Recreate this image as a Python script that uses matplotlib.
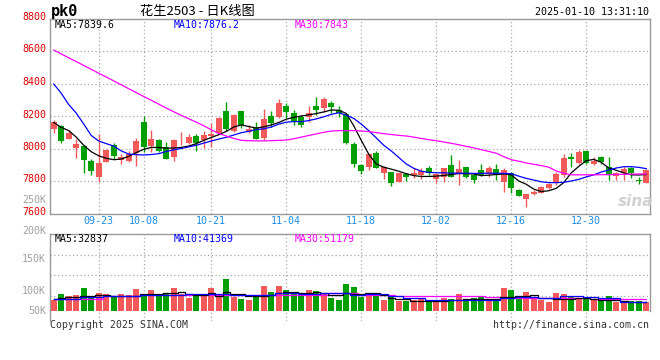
import matplotlib
matplotlib.use('Agg')
import matplotlib.pyplot as plt
import numpy as np

# ---------------- data ----------------
tick_labels = ['09-23', '10-08', '10-21', '11-04', '11-18', '12-02', '12-16', '12-30']
tick_index = [6, 12, 21, 31, 41, 51, 61, 71]

open_ = [8120, 8140, 8061, 8005, 8017, 7923, 7827, 7919, 8022, 7929,
         7925, 7974, 8163, 8017, 8052, 8007, 7950, 8038, 8034, 8077,
         8052, 8077, 8093, 8231, 8108, 8231, 8099, 8126, 8065, 8200,
         8196, 8262, 8220, 8192, 8192, 8262, 8251, 8282, 8237, 8212,
         8028, 7899, 7888, 7970, 7851, 7853, 7796, 7843, 7839, 7837,
         7878, 7812, 7827, 7899, 7841, 7884, 7835, 7868, 7843, 7872,
         7796, 7847, 7745, 7691, 7720, 7728, 7755, 7796, 7837, 7950,
         7909, 7985, 7903, 7946, 7888, 7831, 7847, 7882, 7804, 7786]
high = [8175, 8145, 8112, 8058, 8022, 7935, 8089, 8000, 8036, 7964,
        7987, 8063, 8200, 8114, 8058, 8042, 8058, 8104, 8089, 8087,
        8108, 8155, 8196, 8286, 8210, 8233, 8145, 8165, 8241, 8231,
        8307, 8278, 8237, 8206, 8262, 8319, 8319, 8292, 8262, 8220,
        8042, 7905, 7970, 7985, 7894, 7857, 7851, 7851, 7878, 7878,
        7892, 7851, 7880, 7960, 7929, 7888, 7847, 7905, 7892, 7903,
        7882, 7853, 7751, 7722, 7745, 7769, 7790, 7858, 7964, 7970,
        7991, 7987, 7946, 7954, 7950, 7853, 7888, 7888, 7827, 7872]
low = [8097, 8036, 8058, 7944, 7851, 7837, 7796, 7915, 7935, 7907,
       7920, 7894, 7978, 7980, 7980, 7935, 7925, 8020, 8030, 7987,
       8001, 8007, 8089, 8108, 8104, 8128, 8097, 8056, 8052, 8134,
       8186, 8186, 8143, 8134, 8165, 8206, 8227, 8216, 8196, 8030,
       7884, 7843, 7868, 7878, 7812, 7771, 7794, 7802, 7816, 7810,
       7837, 7790, 7796, 7823, 7775, 7821, 7790, 7831, 7827, 7806,
       7734, 7728, 7708, 7642, 7714, 7724, 7749, 7775, 7827, 7888,
       7905, 7905, 7899, 7905, 7806, 7806, 7806, 7816, 7780, 7786]
close = [8165, 8048, 8097, 8028, 7931, 7864, 7911, 7991, 7956, 7948,
         7966, 8046, 8011, 8056, 7987, 7937, 8052, 8043, 8071, 8036,
         8083, 8089, 8190, 8118, 8206, 8145, 8120, 8058, 8180, 8157,
         8280, 8227, 8169, 8143, 8216, 8237, 8307, 8258, 8216, 8032,
         7905, 7864, 7964, 7882, 7886, 7786, 7847, 7827, 7851, 7862,
         7847, 7841, 7878, 7827, 7872, 7827, 7806, 7835, 7880, 7837,
         7868, 7755, 7710, 7720, 7734, 7761, 7782, 7841, 7940, 7933,
         7978, 7909, 7925, 7919, 7839, 7851, 7874, 7847, 7800, 7868]

ma5 = [8160, 8130, 8110, 8070, 8020, 7980, 7955, 7940, 7931, 7935,
       7952, 7975, 7995, 8007, 8006, 8002, 8003, 8007, 8015, 8030,
       8050, 8068, 8085, 8105, 8132, 8145, 8135, 8126, 8133, 8145,
       8160, 8180, 8192, 8200, 8207, 8215, 8225, 8237, 8235, 8216,
       8140, 8050, 7965, 7905, 7885, 7873, 7860, 7845, 7833, 7828,
       7828, 7830, 7834, 7840, 7846, 7845, 7843, 7833, 7836, 7840,
       7843, 7838, 7800, 7780, 7750, 7735, 7740, 7755, 7790, 7850,
       7890, 7925, 7933, 7915, 7880, 7866, 7850, 7838, 7837, 7840]
ma10 = [8397, 8340, 8270, 8218, 8150, 8080, 8046, 8030, 8015, 7985,
        7966, 7962, 7960, 7963, 7968, 7982, 7992, 8000, 8010, 8020,
        8033, 8046, 8058, 8069, 8083, 8097, 8106, 8116, 8121, 8132,
        8150, 8162, 8166, 8165, 8172, 8182, 8195, 8210, 8220, 8205,
        8185, 8150, 8110, 8065, 8020, 7985, 7945, 7905, 7878, 7860,
        7853, 7851, 7850, 7849, 7848, 7848, 7847, 7847, 7848, 7848,
        7847, 7845, 7830, 7816, 7806, 7795, 7790, 7790, 7792, 7800,
        7810, 7825, 7838, 7855, 7868, 7880, 7888, 7888, 7884, 7876]
ma30 = [8606, 8582, 8558, 8535, 8511, 8487, 8463, 8440, 8416, 8392,
        8368, 8344, 8320, 8297, 8273, 8249, 8226, 8204, 8183, 8162,
        8140, 8115, 8092, 8077, 8062, 8050, 8048, 8047, 8047, 8048,
        8050, 8052, 8060, 8070, 8080, 8090, 8100, 8107, 8110, 8110,
        8110, 8108, 8104, 8098, 8091, 8086, 8081, 8077, 8070, 8062,
        8054, 8048, 8040, 8032, 8023, 8013, 8004, 7993, 7982, 7971,
        7950, 7931, 7922, 7911, 7903, 7895, 7885, 7862, 7848, 7838,
        7838, 7838, 7838, 7839, 7839, 7840, 7841, 7842, 7843, 7843]

volume = [40300, 54800, 50000, 52500, 70000, 48400, 58000, 54000, 50700, 54000,
          52000, 67700, 52500, 64500, 52500, 55000, 70000, 56000, 46000, 50000,
          50000, 70000, 56000, 92000, 48400, 43500, 40300, 50000, 74000, 60500,
          74000, 64500, 56000, 50000, 64500, 62000, 54000, 46000, 40300, 79000,
          71600, 48400, 56000, 51000, 40300, 48400, 38000, 38000, 40000, 43000,
          40000, 36000, 46000, 43000, 56000, 40000, 46000, 50000, 40000, 40000,
          70000, 64500, 43000, 60500, 43000, 40000, 35500, 58000, 55000, 50000,
          46000, 46000, 40000, 40000, 50000, 35500, 34500, 38000, 38000, 34500]
vol_ma5 = [42800, 44400, 46800, 48400, 50800, 50800, 52400, 52400, 50800, 50000,
           50000, 50800, 54000, 54000, 54000, 56500, 57300, 58900, 54000, 52400,
           52400, 56500, 50800, 58900, 54000, 54000, 50800, 50800, 49200, 52400,
           56500, 60500, 60500, 56500, 58000, 60500, 56500, 52400, 52400, 56500,
           54000, 54000, 56500, 56500, 52400, 46000, 42800, 42800, 37900, 37900,
           37900, 37900, 37900, 40400, 40400, 42000, 42000, 42000, 42000, 42000,
           48400, 48400, 50000, 50000, 52400, 46000, 46000, 42800, 42800, 42800,
           46000, 46000, 42800, 40400, 40400, 40400, 37900, 34700, 34700, 34700]
vol_ma10 = [42800, 42800, 42800, 42800, 48400, 48400, 48400, 50800, 50800, 50800,
            50800, 50800, 52400, 52400, 52400, 52400, 52400, 52400, 54000, 54000,
            54000, 54000, 54000, 54000, 52400, 52400, 52400, 52400, 52400, 52400,
            56500, 56500, 56500, 54000, 54000, 54000, 56500, 56500, 56500, 56500,
            52400, 52400, 54000, 54000, 54000, 50000, 50000, 46000, 46000, 46000,
            40400, 40400, 40400, 40400, 40400, 40400, 40400, 40400, 40400, 40400,
            46000, 46000, 48400, 48400, 48400, 46000, 46000, 46000, 50000, 50000,
            50000, 48400, 48400, 44400, 44400, 44400, 36300, 36300, 36300, 36300]
vol_ma30 = [42800, 42800, 42800, 42800, 42800, 42800, 42800, 50000, 50000, 50000,
            50000, 50000, 52400, 52400, 52400, 52400, 52400, 52400, 52400, 52400,
            52400, 52400, 52400, 52400, 52400, 52400, 52400, 52400, 52400, 52400,
            52400, 52400, 52400, 52400, 52400, 52400, 52400, 56500, 56500, 56500,
            56500, 52400, 52400, 52400, 52400, 52400, 50800, 50800, 50800, 50800,
            50800, 50000, 50000, 50000, 50000, 50000, 50000, 50000, 48400, 48400,
            48400, 46000, 46000, 46000, 46000, 46000, 46000, 46000, 44400, 44400,
            44400, 44400, 42000, 42000, 42000, 42000, 42000, 42000, 42000, 42000]

price_ticks = [7600, 7800, 8000, 8200, 8400, 8600, 8800]
vol_tick_labels = ['250K', '200K', '150K', '100K', '50K']

title_code = 'pk0'
title_name = '花生2503 - 日K线图'
timestamp = '2025-01-10 13:31:10'
price_legend = ['MA5:7839.6', 'MA10:7876.2', 'MA30:7843']
vol_legend = ['MA5:32837', 'MA10:41369', 'MA30:51179']

# ---------------- style ----------------
W, H = 660, 360
RED = '#F25A5A'
GREEN = '#009F00'
GRID = '#A8A8A8'
SPINE = '#999999'
MONO = 'DejaVu Sans Mono'
LEG_COLORS = ['#000000', '#0000FF', '#FF00FF']
VOL_BASE = 13700

def fx(x):
    return x / W

def fy(y):
    return 1 - y / H

fig = plt.figure(figsize=(W / 100, H / 100), dpi=100)
fig.patch.set_facecolor('white')

# price axes: x 50..650 px, y 18.5..213.5 px
ax = fig.add_axes([fx(50), fy(213.5), 600 / W, 195 / H])
# volume axes: x 50..650 px, y 234..321 px
ax2 = fig.add_axes([fx(50), fy(321), 600 / W, 87 / H])

n = len(close)
x = np.arange(n)
colors = [RED if c >= o else GREEN for o, c in zip(open_, close)]

# candles
body_bottom = np.minimum(open_, close)
body_h = np.maximum(np.abs(np.array(close) - np.array(open_)), 4)
ax.vlines(x, low, high, colors=colors, linewidth=1.0, zorder=3)
ax.bar(x, body_h, bottom=body_bottom, width=0.76, color=colors, linewidth=0, zorder=4)

ax.plot(x, ma5, color=LEG_COLORS[0], lw=0.9, zorder=5)
ax.plot(x, ma10, color=LEG_COLORS[1], lw=0.9, zorder=5)
ax.plot(x, ma30, color=LEG_COLORS[2], lw=0.9, zorder=5)

ax.set_xlim(-0.5, n - 0.5)
ax.set_ylim(price_ticks[0], price_ticks[-1])
ax.set_yticks(price_ticks[1:-1])
ax.set_xticks(tick_index)
ax.grid(True, color=GRID, linestyle=(0, (1, 2)), linewidth=0.9)
ax.tick_params(left=False, bottom=False, labelleft=False, labelbottom=False)
for s in ax.spines.values():
    s.set_color(SPINE)
    s.set_linewidth(1.0)

# volume bars
vol_h = np.array(volume) - VOL_BASE
ax2.bar(x, vol_h, bottom=VOL_BASE, width=0.76, color=colors, linewidth=0, zorder=3)
ax2.plot(x, vol_ma5, color=LEG_COLORS[0], lw=0.9, drawstyle='steps-mid', zorder=5)
ax2.plot(x, vol_ma10, color=LEG_COLORS[1], lw=0.9, drawstyle='steps-mid', zorder=5)
ax2.plot(x, vol_ma30, color=LEG_COLORS[2], lw=0.9, drawstyle='steps-mid', zorder=4)
ax2.set_xlim(-0.5, n - 0.5)
ax2.set_ylim(-10400, 200000)
ax2.set_yticks([50000, 100000, 150000])
ax2.set_xticks(tick_index)
ax2.grid(True, color=GRID, linestyle=(0, (1, 2)), linewidth=0.9)
ax2.tick_params(left=False, bottom=False, labelleft=False, labelbottom=False)
for s in ax2.spines.values():
    s.set_color(SPINE)
    s.set_linewidth(1.0)
ax2.spines['bottom'].set_visible(False)
ax2.spines['right'].set_bounds(VOL_BASE, 200000)

# ---------------- text ----------------
# price labels
for p in price_ticks:
    ypx = 213.5 - (p - 7600) / 200 * 32.5
    fig.text(fx(46), fy(ypx - 1.5), str(p), color='#E00000', family=MONO,
             fontsize=7.2, ha='right', va='center')

# volume labels (positions as in the original chart)
vol_label_y = [200, 231, 259, 291, 311]
for lab, ypx in zip(vol_tick_labels, vol_label_y):
    fig.text(fx(46), fy(ypx), lab, color='#A0A0A0', family=MONO,
             fontsize=7.2, ha='right', va='center')

# date labels
for lab, i in zip(tick_labels, tick_index):
    xpx = 50 + (i + 0.5) * 600 / n
    fig.text(fx(xpx), fy(221.5), lab, color='#1A8CE6', family=MONO,
             fontsize=7.2, ha='center', va='center')

# header
fig.text(fx(51), fy(11.5), title_code, family=MONO, fontweight='bold',
         fontsize=11, ha='left', va='center', color='#000000')
fig.text(fx(140), fy(11), title_name, family=['Noto Sans CJK SC', 'DejaVu Sans'],
         fontsize=9.5, ha='left', va='center', color='#000000')
fig.text(fx(649), fy(12), timestamp, family=MONO, fontsize=7.2,
         ha='right', va='center', color='#000000')

leg_x = [55, 174, 295]
for t, c, xp in zip(price_legend, LEG_COLORS, leg_x):
    fig.text(fx(xp), fy(24.5), t, family=MONO, fontsize=7.1, color=c,
             ha='left', va='center')
for t, c, xp in zip(vol_legend, LEG_COLORS, leg_x):
    fig.text(fx(xp), fy(239.5), t, family=MONO, fontsize=7.1, color=c,
             ha='left', va='center')

# footer
fig.text(fx(50), fy(324.5), 'Copyright 2025 SINA.COM', family=MONO, fontsize=7.1,
         color='#333333', ha='left', va='center')
fig.text(fx(649), fy(324.5), 'http://finance.sina.com.cn', family=MONO, fontsize=7.1,
         color='#333333', ha='right', va='center')

# watermark
fig.text(fx(636), fy(201), 'sina', family='DejaVu Sans', fontsize=11,
         fontweight='bold', fontstyle='italic', color='#CCCCCC',
         ha='center', va='center', alpha=0.9)

fig.savefig('out.png', dpi=100, facecolor='white')
